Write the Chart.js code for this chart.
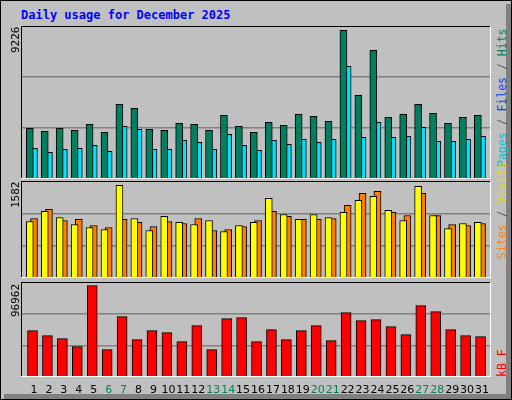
<!DOCTYPE html>
<html><head><meta charset="utf-8">
<script src="https://cdn.jsdelivr.net/npm/chart.js@4"></script>
<style>
body{margin:0;background:#fff}
#frame{position:absolute;left:0;top:0;width:510px;height:398px;border:1px solid #000;background:#c0c0c0;overflow:hidden;font-family:"DejaVu Sans Mono",monospace}
#shadowR{position:absolute;left:505px;top:3px;width:5px;height:395px;background:#808080}
#shadowB{position:absolute;left:3px;top:393px;width:507px;height:5px;background:#808080}
.panel{position:absolute;left:20px;width:470px}
.rot{position:absolute;transform:rotate(-90deg);transform-origin:left top;white-space:nowrap;font-size:11px}
#title{position:absolute;left:20px;top:7px;font-weight:bold;font-size:12px;color:#0000ff}
.xl{position:absolute;top:382px;font-size:11px;width:20px;text-align:center;font-family:"DejaVu Sans",sans-serif}
</style></head>
<body>
<div id="frame">
<div id="shadowR"></div><div id="shadowB"></div>
<div id="title">Daily usage for December 2025</div>
<div class="panel" style="top:25px;height:153px"><canvas id="c1"></canvas></div>
<div class="panel" style="top:180px;height:97px"><canvas id="c2"></canvas></div>
<div class="panel" style="top:281px;height:95px"><canvas id="c3"></canvas></div>
<div class="rot" style="left:8px;top:52px">9226</div>
<div class="rot" style="left:8px;top:207px">1582</div>
<div class="rot" style="left:8px;top:316px">96962</div>
<div class="rot" style="left:494px;top:166px;font-size:11.5px"><span style="color:#00c0e0">Pages</span><span style="color:#606060"> / </span><span style="color:#0040ff">Files</span><span style="color:#606060"> / </span><span style="color:#008060">Hits</span></div>
<div class="rot" style="left:494px;top:258px;font-size:11.5px"><span style="color:#ff8000">Sites</span><span style="color:#606060"> / </span><span style="color:#e0e000">Visits</span></div>
<div class="rot" style="left:494px;top:376px;font-size:11.5px;color:#ff0000">kB F</div>
<div id="xlabels"></div>
</div>
<script>
const days = Array.from({length:31},(_, i)=>i+1);
const weekend = [6,7,13,14,20,21,27,28];
const hits  = [3057,2876,3057,2936,3298,2816,4504,4263,2997,2936,3358,3298,2936,3840,3177,2816,3418,3238,3900,3780,3479,8966,5047,7760,3720,3900,4504,3960,3358,3720,3840];
const files = [1850,1610,1790,1850,2032,1670,3177,2997,1790,1790,2333,2213,1790,2695,2032,1730,2333,2092,2393,2213,2393,6795,2514,3418,2514,2574,3117,2273,2273,2393,2574];
const pages = [1790,1910,2092,1670,1850,1428,2393,2032,1610,1850,1549,1549,1428,2152,2032,1670,2152,2032,2453,2152,1610,2755,2273,2634,2092,1850,2393,2453,1489,2393,2032];
const visits = [922,1086,987,873,824,791,1511,971,775,1004,906,873,938,758,856,906,1298,1036,955,1036,987,1069,1266,1331,1102,938,1495,1020,807,889,906];
const sites  = [971,1118,938,955,856,824,955,906,840,922,889,971,775,791,840,938,1086,1004,955,955,971,1184,1380,1413,1069,1020,1380,1020,873,856,889];
const kbytes = [47290,42187,39125,30960,93220,27898,61580,38104,47290,45249,36063,52393,27898,59538,60558,36063,48311,38104,47290,52393,37084,65662,57496,58517,51372,43208,72806,66683,48311,42187,41166];
const maxHits = 9226, maxVisits = 1582, maxKb = 96962;

function pts(vals, off){ return vals.map((v,i)=>({x:days[i]+off,y:v})); }
function ds(vals, off, color, w){
  return {data:pts(vals,off),backgroundColor:color,borderColor:'#000',borderWidth:1,barThickness:w,grouped:false};
}
const frame = {id:'frame',afterDraw(c){const a=c.chartArea,x=c.ctx;x.save();x.strokeStyle='#000';x.lineWidth=2;
  x.beginPath();x.moveTo(a.left,a.bottom);x.lineTo(a.left,a.top);x.lineTo(a.right,a.top);x.stroke();
  x.strokeStyle='#fff';x.beginPath();x.moveTo(a.right,a.top);x.lineTo(a.right,a.bottom);x.lineTo(a.left,a.bottom);x.stroke();x.restore();}};
function make(id, sets, max){
  new Chart(document.getElementById(id),{type:'bar',data:{datasets:sets},plugins:[frame],
    options:{responsive:true,maintainAspectRatio:false,animation:false,layout:{padding:0},
      plugins:{legend:{display:false},tooltip:{enabled:false}},
      scales:{x:{type:'linear',min:0.13,max:31.6,offset:false,display:false},
        y:{min:0,max:max,ticks:{display:false,stepSize:max/3},border:{display:false},grid:{color:'#808080',drawTicks:false,lineWidth:1.5}}}}});
}
make('c1',[ds(hits,-0.28,'#008060',7),ds(pages,-0.28,'#0040ff',3),ds(files,0,'#00e0ff',7)],maxHits);
make('c2',[ds(visits,-0.28,'#ffff00',7),ds(sites,0,'#ff8000',7)],maxVisits);
make('c3',[ds(kbytes,-0.1,'#ff0000',10)],maxKb);
const xl=document.getElementById('xlabels');
days.forEach(d=>{const e=document.createElement('div');e.className='xl';e.textContent=d;
  e.style.left=(20+(d-0.13)/(31.6-0.13)*470-10)+'px';e.style.color=weekend.includes(d)?'#008060':'#000';xl.appendChild(e);});
</script>
</body></html>
